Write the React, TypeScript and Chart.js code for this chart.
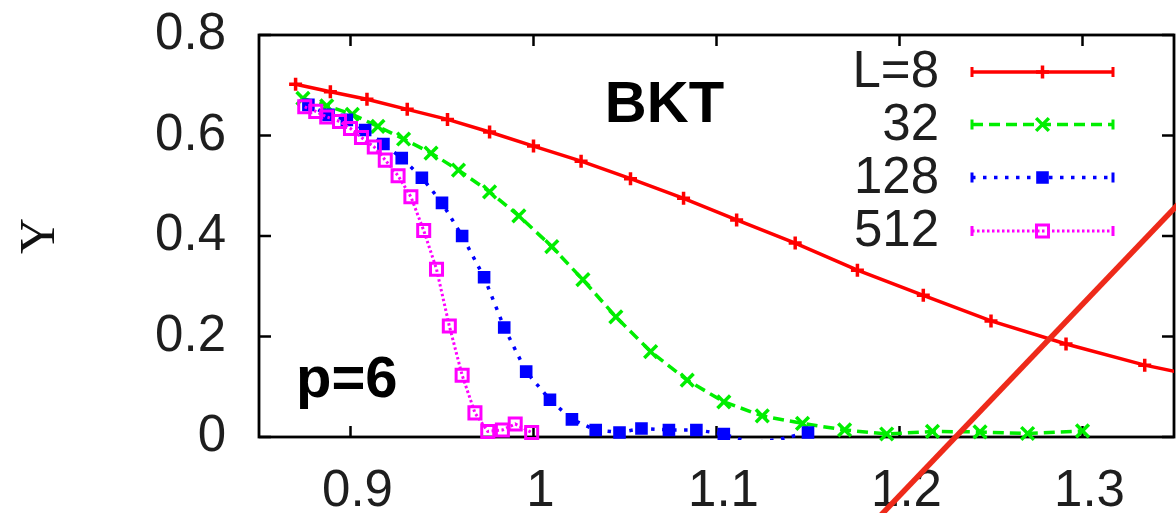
import React, { useEffect, useRef } from 'react';
import { Chart, registerables } from 'chart.js';
import { drawPoint } from 'chart.js/helpers';

Chart.register(...registerables);

const SERIES_LABELS = ['L=8', '32', '128', '512'];

const redX = [0.870, 0.889, 0.909, 0.931, 0.953, 0.976, 1.000, 1.026, 1.053, 1.082, 1.111, 1.143, 1.177, 1.213, 1.250, 1.291, 1.334, 1.378];
const redY = [0.702, 0.687, 0.672, 0.652, 0.632, 0.607, 0.579, 0.549, 0.514, 0.475, 0.432, 0.386, 0.332, 0.282, 0.231, 0.185, 0.143, 0.110];

const greenX = [0.874, 0.887, 0.901, 0.915, 0.929, 0.944, 0.959, 0.976, 0.992, 1.010, 1.027, 1.045, 1.064, 1.084, 1.104, 1.125, 1.147, 1.170, 1.193, 1.218, 1.244, 1.270, 1.300];
const greenY = [0.674, 0.659, 0.642, 0.618, 0.593, 0.565, 0.531, 0.488, 0.440, 0.379, 0.313, 0.239, 0.170, 0.113, 0.070, 0.042, 0.027, 0.014, 0.006, 0.011, 0.010, 0.007, 0.012];

const blueX = [0.877, 0.888, 0.898, 0.908, 0.918, 0.928, 0.939, 0.950, 0.961, 0.973, 0.984, 0.996, 1.009, 1.021, 1.034, 1.047, 1.059, 1.074, 1.089, 1.104, 1.119, 1.135, 1.150];
const blueY = [0.661, 0.641, 0.631, 0.611, 0.583, 0.555, 0.516, 0.466, 0.400, 0.318, 0.218, 0.130, 0.074, 0.035, 0.014, 0.009, 0.017, 0.014, 0.014, 0.006, -0.012, -0.004, 0.009];

const pinkX = [0.875, 0.881, 0.887, 0.894, 0.900, 0.906, 0.913, 0.919, 0.926, 0.933, 0.940, 0.947, 0.954, 0.961, 0.968, 0.975, 0.983, 0.990, 0.999];
const pinkY = [0.657, 0.648, 0.637, 0.628, 0.614, 0.596, 0.577, 0.551, 0.520, 0.478, 0.411, 0.334, 0.221, 0.123, 0.048, 0.011, 0.014, 0.026, 0.009];

const fitLineX = [1.17, 1.40];
const fitLineY = [-0.231, 0.645];

const X_TICKS = [0.9, 1, 1.1, 1.2, 1.3];
const Y_TICKS = [0, 0.2, 0.4, 0.6, 0.8];

const TEXT_BKT = { text: 'BKT', x: 1.039, y: 0.627 };
const TEXT_P = { text: 'p=6', x: 0.8702, y: 0.0796 };

function pts(xs: number[], ys: number[]) {
  return xs.map((x, i) => ({ x, y: ys[i] }));
}

const SANS = '"Liberation Sans", Arial, sans-serif';
const TEXT_COLOR = '#1e1e1e';

const framePlugin = {
  id: 'frame',
  beforeDatasetsDraw(chart: any) {
    const { ctx, chartArea: a, scales } = chart;
    ctx.save();
    ctx.strokeStyle = '#000';
    ctx.lineWidth = 2.5;
    ctx.setLineDash([]);
    ctx.beginPath();
    X_TICKS.forEach((v) => {
      const px = scales.x.getPixelForValue(v);
      ctx.moveTo(px, a.bottom);
      ctx.lineTo(px, a.bottom - 11);
      ctx.moveTo(px, a.top);
      ctx.lineTo(px, a.top + 11);
    });
    Y_TICKS.forEach((v) => {
      const py = scales.y.getPixelForValue(v);
      ctx.moveTo(a.left, py);
      ctx.lineTo(a.left + 12, py);
      ctx.moveTo(a.right, py);
      ctx.lineTo(a.right - 12, py);
    });
    ctx.stroke();
    ctx.lineWidth = 2.8;
    ctx.strokeRect(a.left, a.top, a.right - a.left, a.bottom - a.top);
    ctx.restore();
  },
  afterDatasetsDraw(chart: any) {
    const { ctx, scales } = chart;
    ctx.save();
    ctx.fillStyle = '#000';
    ctx.font = 'bold 58px ' + SANS;
    ctx.textAlign = 'left';
    ctx.textBaseline = 'alphabetic';
    [TEXT_BKT, TEXT_P].forEach((t) => {
      ctx.fillText(t.text, scales.x.getPixelForValue(t.x), scales.y.getPixelForValue(t.y));
    });
    ctx.restore();

    // legend
    const rows = [72, 124.5, 177.5, 231];
    const textRight = 939;
    const lx0 = 972;
    const lx1 = 1113;
    ctx.save();
    for (let i = 0; i < 4; i++) {
      const ds = chart.data.datasets[i];
      const y = rows[i];
      ctx.fillStyle = TEXT_COLOR;
      ctx.font = '51px ' + SANS;
      ctx.textAlign = 'right';
      ctx.textBaseline = 'middle';
      ctx.fillText(SERIES_LABELS[i], textRight, y + 1);
      ctx.strokeStyle = ds.borderColor;
      ctx.lineWidth = ds.borderWidth;
      ctx.setLineDash(ds.borderDash || []);
      ctx.beginPath();
      ctx.moveTo(lx0, y);
      ctx.lineTo(lx1, y);
      ctx.stroke();
      ctx.setLineDash([]);
      ctx.lineWidth = 3;
      ctx.beginPath();
      ctx.moveTo(lx0, y - 5);
      ctx.lineTo(lx0, y + 5);
      ctx.moveTo(lx1, y - 5);
      ctx.lineTo(lx1, y + 5);
      ctx.stroke();
      ctx.strokeStyle = ds.pointBorderColor;
      ctx.fillStyle = ds.pointBackgroundColor;
      ctx.lineWidth = ds.pointBorderWidth;
      drawPoint(ctx, {
        pointStyle: ds.pointStyle,
        rotation: 0,
        radius: typeof ds.pointRadius === 'number' ? ds.pointRadius : 7.5,
        borderWidth: ds.pointBorderWidth,
      } as any, (lx0 + lx1) / 2, y);
    }
    ctx.restore();
  },
};

export default function App() {
  const ref = useRef<HTMLCanvasElement>(null);

  useEffect(() => {
    document.body.style.margin = '0';
    const canvas = ref.current!;
    const hideNeg = (c: any) => (c.raw && c.raw.y < 0 ? 0 : 7.5);
    const chart = new Chart(canvas, {
      type: 'line',
      data: {
        datasets: [
          {
            label: SERIES_LABELS[0],
            data: pts(redX, redY),
            borderColor: '#ff0000',
            borderWidth: 3.5,
            pointStyle: 'cross',
            pointRadius: 6.5,
            pointBorderWidth: 3.5,
            pointBorderColor: '#ff0000',
            pointBackgroundColor: '#ff0000',
            clip: { left: 10, top: 10, right: 0, bottom: 10 },
            order: 4,
          },
          {
            label: SERIES_LABELS[1],
            data: pts(greenX, greenY),
            borderColor: '#00ee00',
            borderWidth: 3.5,
            borderDash: [11, 6],
            pointStyle: 'crossRot',
            pointRadius: 9,
            pointBorderWidth: 3.5,
            pointBorderColor: '#00ee00',
            pointBackgroundColor: '#00ee00',
            clip: { left: 10, top: 10, right: 0, bottom: 10 },
            order: 3,
          },
          {
            label: SERIES_LABELS[2],
            data: pts(blueX, blueY),
            borderColor: '#0000ff',
            borderWidth: 3.5,
            borderDash: [3.5, 7.5],
            pointStyle: 'rect',
            pointRadius: hideNeg as any,
            pointBorderWidth: 2,
            pointBorderColor: '#0000ff',
            pointBackgroundColor: '#0000ff',
            clip: { left: 10, top: 10, right: 0, bottom: 3 },
            order: 2,
          },
          {
            label: SERIES_LABELS[3],
            data: pts(pinkX, pinkY),
            borderColor: '#ff00ff',
            borderWidth: 3,
            borderDash: [2.5, 2.5],
            pointStyle: 'rect',
            pointRadius: 8.5,
            pointBorderWidth: 3,
            pointBorderColor: '#ff00ff',
            pointBackgroundColor: 'rgba(255,255,255,0)',
            clip: { left: 10, top: 10, right: 0, bottom: 10 },
            order: 1,
          },
          {
            label: 'fit',
            data: pts(fitLineX, fitLineY),
            borderColor: '#ee2a1a',
            borderWidth: 5.5,
            pointRadius: 0,
            clip: false as any,
            order: 0,
          },
        ],
      },
      options: {
        animation: false,
        responsive: false,
        devicePixelRatio: 1,
        layout: { autoPadding: false, padding: { top: 35, right: 2, left: 0, bottom: 0 } },
        plugins: {
          legend: { display: false },
          tooltip: { enabled: false },
        },
        elements: { line: { tension: 0 } },
        scales: {
          x: {
            type: 'linear',
            min: 0.85,
            max: 1.35,
            grid: { display: false, drawTicks: false },
            border: { display: false },
            afterBuildTicks: (s: any) => {
              s.ticks = X_TICKS.map((v) => ({ value: v }));
            },
            afterFit: (s: any) => {
              s.height = 76;
              s.paddingLeft = 0;
              s.paddingRight = 0;
              s.paddingTop = 0;
              s.paddingBottom = 0;
            },
            ticks: {
              padding: 24,
              labelOffset: 7,
              color: TEXT_COLOR,
              font: { family: SANS, size: 51 },
              maxRotation: 0,
              autoSkip: false,
              callback: (v: any) => String(v),
            },
          },
          y: {
            type: 'linear',
            min: 0,
            max: 0.8,
            grid: { display: false, drawTicks: false },
            border: { display: false },
            afterBuildTicks: (s: any) => {
              s.ticks = Y_TICKS.map((v) => ({ value: v }));
            },
            afterFit: (s: any) => {
              s.width = 259;
              s.paddingLeft = 0;
              s.paddingRight = 0;
              s.paddingTop = 0;
              s.paddingBottom = 0;
            },
            ticks: {
              padding: 33,
              color: TEXT_COLOR,
              font: { family: SANS, size: 51 },
              autoSkip: false,
              callback: (v: any) => String(v),
            },
            title: {
              display: true,
              text: 'Y',
              color: '#111',
              font: { family: '"Liberation Serif", "Times New Roman", serif', size: 50 },
              padding: { top: 11, bottom: 0 },
            },
          },
        },
      },
      plugins: [framePlugin],
    } as any);
    return () => chart.destroy();
  }, []);

  return (
    <div style={{ position: 'absolute', left: 0, top: 0, width: 1176, height: 513, background: '#fff' }}>
      <canvas ref={ref} width={1176} height={513} />
    </div>
  );
}
